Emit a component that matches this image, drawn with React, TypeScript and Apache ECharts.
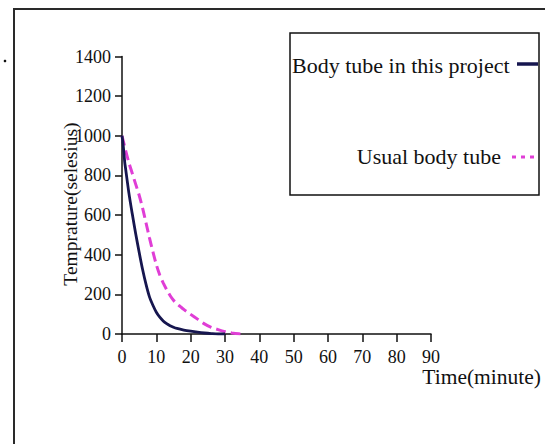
import React, { useEffect, useRef } from "react";
import * as echarts from "echarts";

const seriesNames = ["Body tube in this project", "Usual body tube"];
const xAxisTitle = "Time(minute)";
const yAxisTitle = "Temprature(selesius)";

// Body tube in this project (solid navy)
const timeProject = [0, 0.3, 0.8, 1, 2, 3, 4, 5, 6, 7, 8, 9, 10, 11, 12, 13, 14, 15, 16, 18, 20, 22, 24, 26, 28, 30];
const tempProject = [1000, 960, 866, 840, 712, 605, 505, 412, 325, 250, 187, 145, 110, 85, 66, 52, 42, 34, 28, 20, 14, 9, 5, 2, 0, 0];

// Usual body tube (dashed magenta)
const timeUsual = [0, 1, 2, 3, 4, 5, 6, 7, 8, 9, 10, 11, 12, 13, 14, 15, 16, 17, 18, 19, 20, 22, 24, 26, 28, 30, 32, 34, 36];
const tempUsual = [1000, 930, 865, 810, 755, 700, 635, 560, 485, 415, 350, 298, 258, 224, 194, 170, 152, 138, 124, 111, 99, 75, 51, 34, 22, 12, 5, 1, 0];

const FONT = "'Liberation Serif', 'Times New Roman', serif";

export default function App() {
  const ref = useRef<HTMLDivElement>(null);
  useEffect(() => {
    if (!ref.current) return;
    const chart = echarts.init(ref.current, null, { renderer: "svg" });
    const solid = timeProject.map((t, i) => [t, tempProject[i]]);
    const dashed = timeUsual.map((t, i) => [t, tempUsual[i]]);
    const axisColor = "#111";
    chart.setOption({
      animation: false,
      backgroundColor: "#ffffff",
      grid: { left: 122, top: 56.5, width: 309, height: 277.5, containLabel: false },
      xAxis: {
        type: "value",
        min: 0,
        max: 90,
        interval: 10,
        splitLine: { show: false },
        axisLine: { show: true, onZero: false, lineStyle: { color: axisColor, width: 1.5 } },
        axisTick: { show: true, inside: false, length: 8, lineStyle: { color: axisColor, width: 1.5 } },
        axisLabel: { color: "#111", fontFamily: FONT, fontSize: 18, margin: 14, formatter: (v: number) => String(v) },
      },
      yAxis: {
        type: "value",
        min: 0,
        max: 1400,
        interval: 200,
        splitLine: { show: false },
        axisLine: { show: true, lineStyle: { color: axisColor, width: 1.5 } },
        axisTick: { show: true, inside: false, length: 7, lineStyle: { color: axisColor, width: 1.5 } },
        axisLabel: { color: "#111", fontFamily: FONT, fontSize: 18, margin: 11, formatter: (v: number) => String(v) },
      },
      series: [
        {
          name: seriesNames[1],
          type: "line",
          data: dashed,
          showSymbol: false,
          smooth: 0.3,
          lineStyle: { color: "#e03ed6", width: 3, type: [10, 5] },
        },
        {
          name: seriesNames[0],
          type: "line",
          data: solid,
          showSymbol: false,
          smooth: 0.3,
          lineStyle: { color: "#16164f", width: 2.8 },
        },
      ],
      graphic: [
        {
          type: "rect",
          shape: { x: 14, y: 9, width: 560, height: 460 },
          style: { fill: "none", stroke: "#2a2a2a", lineWidth: 2 },
          silent: true,
        },
        { type: "circle", shape: { cx: 5, cy: 61, r: 1.3 }, style: { fill: "#111" } },
        {
          type: "rect",
          shape: { x: 290, y: 33, width: 249, height: 162 },
          style: { fill: "#fff", stroke: "#111", lineWidth: 1.5 },
        },
        {
          type: "text",
          x: 292,
          y: 65,
          style: { text: seriesNames[0], font: `22px ${FONT}`, fill: "#111", align: "left", verticalAlign: "middle" },
        },
        { type: "line", shape: { x1: 517, y1: 64, x2: 538, y2: 64 }, style: { stroke: "#16164f", lineWidth: 3.5 } },
        {
          type: "text",
          x: 501,
          y: 156,
          style: { text: seriesNames[1], font: `22px ${FONT}`, fill: "#111", align: "right", verticalAlign: "middle" },
        },
        {
          type: "line",
          shape: { x1: 512, y1: 157, x2: 536, y2: 157 },
          style: { stroke: "#e03ed6", lineWidth: 3, lineDash: [4, 5] },
        },
        {
          type: "text",
          x: 541,
          y: 377,
          style: { text: xAxisTitle, font: `21.5px ${FONT}`, fill: "#111", align: "right", verticalAlign: "middle" },
        },
        {
          type: "text",
          x: 70,
          y: 204,
          rotation: Math.PI / 2,
          style: { text: yAxisTitle, font: `19.5px ${FONT}`, fill: "#111", align: "center", verticalAlign: "middle" },
        },
      ],
    });
    return () => chart.dispose();
  }, []);
  return (
    <div
      ref={ref}
      style={{ position: "fixed", left: 0, top: 0, width: 545, height: 444, background: "#fff" }}
    />
  );
}
